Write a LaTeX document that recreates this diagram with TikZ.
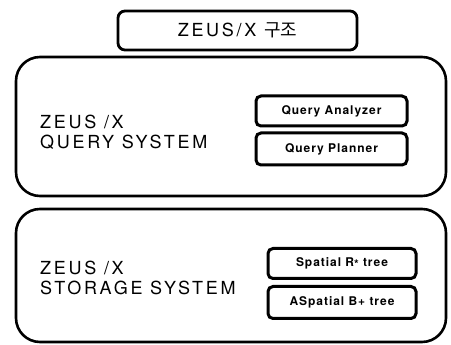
\documentclass[tikz,border=0pt]{standalone}
\usepackage{fontspec}
\setmainfont{TeX Gyre Heros}
\newfontfamily\krfont{Noto Sans CJK KR}
\newfontfamily\widefont[LetterSpace=15]{TeX Gyre Heros}
\newfontfamily\smallwide[LetterSpace=8]{TeX Gyre Heros}
\begin{document}
\begin{tikzpicture}[x=1pt,y=-1pt,
  titlebox/.style={draw,line width=2.8pt,rounded corners=7pt,inner sep=0pt},
  layerbox/.style={draw,line width=2.6pt,rounded corners=24pt,inner sep=0pt},
  partbox/.style={draw,line width=3pt,rounded corners=5pt,inner sep=0pt,
    font=\smallwide\fontsize{12}{14}\selectfont\bfseries},
  layerlabel/.style={anchor=west,align=left,inner sep=0pt,
    font=\widefont\fontsize{18}{20}\selectfont}]
\useasboundingbox (0,0) rectangle (451,345);

% title
\node[titlebox,minimum width=239pt,minimum height=39pt,
  font=\widefont\fontsize{18}{20}\selectfont] (title) at (237.5,30.5)
  {ZEUS/X {\krfont 구조}};

% query layer
\node[layerbox,minimum width=430pt,minimum height=139pt] (qsys) at (231,126.5) {};
\node[layerlabel] (qlabel) at (40,132) {ZEUS /X\\QUERY SYSTEM};
\node[partbox,minimum width=151pt,minimum height=30pt] (qa) at (331.5,111) {Query Analyzer};
\node[partbox,minimum width=151pt,minimum height=32pt] (qp) at (331.5,149) {Query Planner};

% storage layer
\node[layerbox,minimum width=430pt,minimum height=133pt] (ssys) at (231,275.5) {};
\node[layerlabel] (slabel) at (40,278) {ZEUS /X\\STORAGE SYSTEM};
\node[partbox,minimum width=148pt,minimum height=30pt] (sr) at (342,263.5)
  {Spatial R\raisebox{-0.3ex}{*} tree};
\node[partbox,minimum width=148pt,minimum height=32pt] (ab) at (342,302.5) {ASpatial B+ tree};
\end{tikzpicture}
\end{document}
